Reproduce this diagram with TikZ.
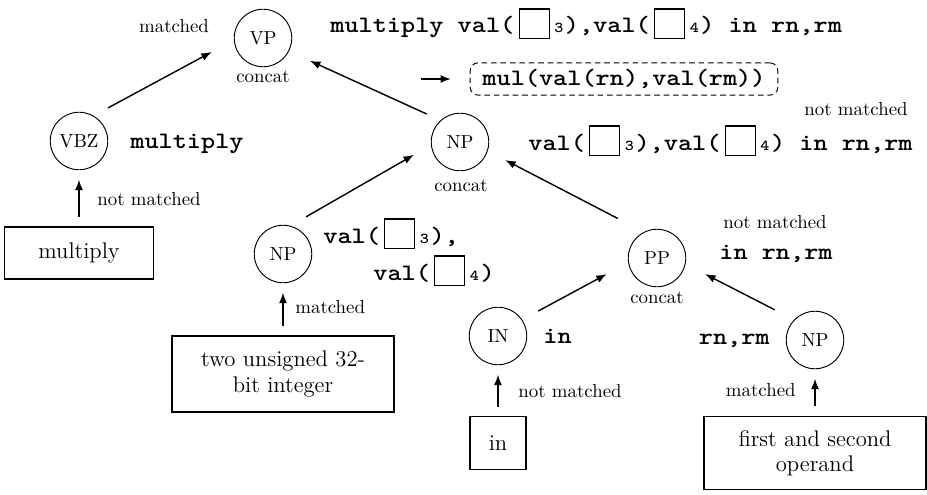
\documentclass[tikz,border=0pt]{standalone}
\usepackage{fontspec}
\newfontfamily\codefont[Extension=.otf,FakeStretch=1.143]{lmmonolt10-bold}
\usetikzlibrary{arrows.meta}
\newcommand{\cd}{\codefont\fontsize{12.5}{15}\selectfont}
\newcommand{\sq}[1]{\hspace{2.2pt}\raisebox{-2.6pt}{\setlength{\fboxsep}{0pt}\setlength{\fboxrule}{0.6pt}\fbox{\rule{0pt}{15pt}\hspace{15.4pt}}}\hspace{2.4pt}{\fontsize{8}{9}\selectfont #1}\hspace{0.8pt}}
\tikzset{
  cnode/.style={circle,draw,line width=0.5pt,minimum size=30.5pt,inner sep=0pt,font=\fontsize{10}{12}\selectfont},
  tbox/.style={draw,line width=0.6pt,inner sep=0pt,align=center,font=\fontsize{12}{13.5}\selectfont},
  lbl/.style={inner sep=0pt,font=\fontsize{10}{12}\selectfont},
  code/.style={inner sep=0pt,font=\cd},
  arr/.style={-{Latex[length=5.5pt,width=4.2pt]},line width=0.75pt},
  vert/.style={arr,shorten <=5pt,shorten >=5pt},
}
\begin{document}
\begin{tikzpicture}[x=0.53pt,y=-0.53pt]
\useasboundingbox (0,0) rectangle (927,494);
% circles
\node[cnode] (VP)  at (263,38)  {VP};
\node[cnode] (VBZ) at (79,141)  {VBZ};
\node[cnode] (NPm) at (460,142) {NP};
\node[cnode] (NPl) at (283,254) {NP};
\node[cnode] (PP)  at (657,258) {PP};
\node[cnode] (IN)  at (498,336) {IN};
\node[cnode] (NPr) at (815,340) {NP};
% boxes
\node[tbox,minimum width=79pt,minimum height=27.6pt] (bMul) at (79,253) {multiply};
\node[tbox,minimum width=117.7pt,minimum height=40.3pt] (bTwo) at (283,374) {two unsigned 32-\\bit integer};
\node[tbox,minimum width=29.7pt,minimum height=28pt] (bIn) at (498,443) {in};
\node[tbox,minimum width=117.7pt,minimum height=38.7pt] (bOp) at (815,453) {first and second\\operand};
% labels
\node[lbl,anchor=base] (lVPm) at (174,33) {matched};
\node[lbl,anchor=base] (lVPc) at (263,83) {concat};
\node[code,anchor=base west] (cVP) at (330,33) {multiply val(\sq{3}),val(\sq{4}) in rn,rm};
\node[draw,dashed,dash pattern=on 3pt off 2pt,rounded corners=4pt,line width=0.5pt,inner xsep=6.5pt,inner ysep=0pt,minimum height=17pt,font=\cd] (mul) at (624,79) {mul(val(rn),val(rm))};
\coordinate (arrS) at (421,79);
\node[lbl,anchor=base] (lNPmn) at (856,115) {not matched};
\node[code,anchor=base west] (cNPm) at (528,150) {val(\sq{3}),val(\sq{4}) in rn,rm};
\node[lbl,anchor=base] (lNPmc) at (461,191) {concat};
\node[code,anchor=base west] (cVBZ) at (130,148) {multiply};
\node[lbl,anchor=base west] (lVBZ) at (97,205) {not matched};
\node[code,anchor=base west] (cNPl1) at (323,243) {val(\sq{3}),};
\node[code,anchor=base west] (cNPl2) at (373,280) {val(\sq{4})};
\node[lbl,anchor=base west] (lNPl) at (295,313) {matched};
\node[lbl,anchor=base] (lPPn) at (775,228) {not matched};
\node[code,anchor=base west] (cPP) at (719,259) {in rn,rm};
\node[lbl,anchor=base] (lPPc) at (657,303) {concat};
\node[code,anchor=base west] (cIN) at (543,343) {in};
\node[lbl,anchor=base west] (lIN) at (518,397) {not matched};
\node[code,anchor=base east] (cNPr) at (770,344) {rn,rm};
\node[lbl,anchor=base east] (lNPr) at (796,396) {matched};
% connectors
\draw[arr,shorten <=8.7pt,shorten >=13.3pt] (VBZ.60) -- (VP.184);
\draw[arr,shorten <=8pt,shorten >=12.2pt] (NPm.132) -- (VP.333);
\draw[arr,shorten <=9.5pt,shorten >=10.4pt] (NPl.75) -- (NPm.186);
\draw[arr,shorten <=15.4pt,shorten >=10.4pt] (PP.117) -- (NPm.342);
\draw[arr,shorten <=9.6pt,shorten >=12.9pt] (IN.34) -- (PP.189);
\draw[arr,shorten <=11.4pt,shorten >=11.6pt] (NPr.136) -- (PP.348);
\draw[vert] (bMul.north) -- (VBZ.south);
\draw[vert] (bTwo.north) -- (NPl.south);
\draw[vert] (bIn.north) -- (IN.south);
\draw[vert] (bOp.north) -- (NPr.south);
\draw[arr,shorten >=10pt] (arrS) -- (mul.west);
\end{tikzpicture}
\end{document}
